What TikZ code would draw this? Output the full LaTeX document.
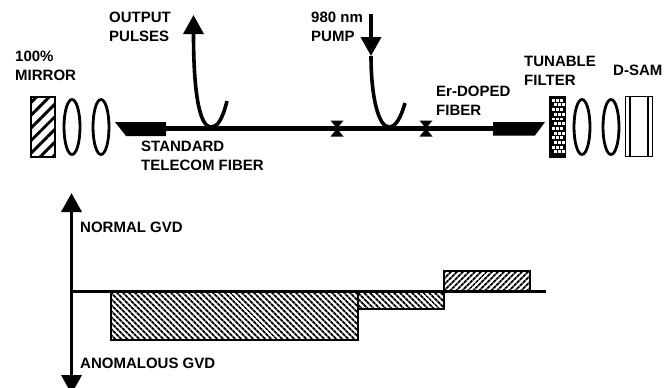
\documentclass[tikz,border=0pt]{standalone}
\usepackage{fontspec}
\setmainfont{Liberation Sans}
\usetikzlibrary{arrows.meta, positioning, calc, shapes.geometric, patterns.meta}

\begin{document}
\begin{tikzpicture}[%
  x=1pt, y=-1pt,
  every node/.style={align=left},
  lbl/.style={font=\fontsize{15}{19}\selectfont\bfseries, inner sep=0pt, text depth=0pt, anchor=south west},
  lens/.style={draw, ellipse, line width=2.8pt, inner sep=0pt, minimum width=16pt, minimum height=55pt},
  plate/.style={draw, line width=2pt, inner sep=0pt, outer sep=0pt, minimum height=60pt, anchor=north west},
  gvdbar/.style={draw, line width=1.8pt, inner sep=0pt, outer sep=0pt, anchor=north west},
  fiber/.style={line width=4.4pt},
  loopline/.style={line width=3.6pt},
  axis/.style={line width=3pt},
  arr/.style={-{Triangle[length=19pt, width=20pt]}, line width=3.6pt}
]
\clip (0,0) rectangle (672,388);

% Left end
\node[plate, minimum width=24pt, pattern={Lines[angle=45, distance=9pt, line width=3pt]}] (mirror) at (31,96.5) {};
\node[lens] (lensa) at (72,127) {};
\node[lens] (lensb) at (101,127) {};
\coordinate (collimL) at (166,128.5);
\fill (115,122) -- (166,122) -- (166,136) -- (126,136) -- cycle;

% Right end
\coordinate (collimR) at (493,128.5);
\fill (493,122) -- (545,122) -- (535,135.5) -- (493,135.5) -- cycle;
\node[plate, minimum width=15pt, fill=black] (filter) at (550,96.5) {};
\foreach \row in {0,...,11} {
  \pgfmathsetmacro{\off}{mod(\row,2)*2.2}
  \foreach \col in {0,1,2}
    \fill[white] ($(filter.north west)+(1.6+\off+\col*4.2,2.2+\row*4.7)$) rectangle ++(2.9,2.9);
}
\node[lens] (lensc) at (582,127) {};
\node[lens] (lensd) at (611,127) {};
\node[plate, minimum width=27pt, line width=1.6pt] (dsam) at (625.5,96.5) {};
\draw[line width=1.4pt] ($(dsam.north west)+(4.5,0)$) -- ($(dsam.south west)+(4.5,0)$);
\draw[line width=1.4pt] ($(dsam.north east)+(-4.5,0)$) -- ($(dsam.south east)+(-4.5,0)$);

% Fiber and splices
\draw[fiber] (collimL) -- (collimR);
\coordinate (spliceA) at (337,128.5);
\coordinate (spliceB) at (426,128.5);
\foreach \s in {spliceA, spliceB}
  \fill (\s) +(-6.5,-8) -- +(6.5,-8) -- +(-6.5,8) -- +(6.5,8) -- cycle;

% Output coupler
\coordinate (outtip) at (193.5,15);
\coordinate (outend) at (227,101);
\draw[loopline] (outend) .. controls (222,121) and (217,127) .. (211,127)
  .. controls (199,127) and (193.5,90) .. (193.5,34);
\draw[arr] (193.5,40) -- (outtip);

% Pump coupler
\coordinate (pumptop) at (371,14);
\coordinate (pumptip) at (371,56);
\coordinate (pumpend) at (405,103);
\draw[arr] (pumptop) -- (pumptip);
\draw[loopline] (pumptip) .. controls (371,95) and (378,127) .. (389,127)
  .. controls (396,127) and (401,117) .. (pumpend);

% Labels
\node[lbl] (mirrorlbl) at (15,81) {100\%\\MIRROR};
\node[lbl] (outlbl) at (109,42) {OUTPUT\\PULSES};
\node[lbl] (stdlbl) at (141,171) {STANDARD\\TELECOM FIBER};
\node[lbl] (pumplbl) at (311,42) {980 nm\\PUMP};
\node[lbl] (erlbl) at (436,116) {Er-DOPED\\FIBER};
\node[lbl] (filterlbl) at (524,86) {TUNABLE\\FILTER};
\node[lbl] (dsamlbl) at (613,76) {D-SAM};

% Dispersion map
\node[gvdbar, minimum width=247pt, minimum height=49pt, pattern={Lines[angle=-45, distance=4pt, line width=2pt]}] (stdbar) at (111,291) {};
\node[gvdbar, minimum width=86pt, minimum height=18pt, pattern={Lines[angle=-45, distance=4pt, line width=2pt]}] (midbar) at (stdbar.north east) {};
\node[gvdbar, minimum width=86pt, minimum height=20pt, pattern={Lines[angle=45, distance=4pt, line width=2pt]}] (erbar) at (444,271) {};

\coordinate (axisorigin) at (71.5,291);
\coordinate (axisend) at (546,291);
\coordinate (axistop) at (71.5,193);
\coordinate (axisbot) at (71.5,394);
\draw[axis] (axisorigin) -- (axisend);
\draw[arr] (axisorigin) -- (axistop);
\draw[arr] (axisorigin) -- (axisbot);

\node[lbl] (normlbl) at (80,233) {NORMAL GVD};
\node[lbl] (anomlbl) at (80,369) {ANOMALOUS GVD};
\end{tikzpicture}
\end{document}
